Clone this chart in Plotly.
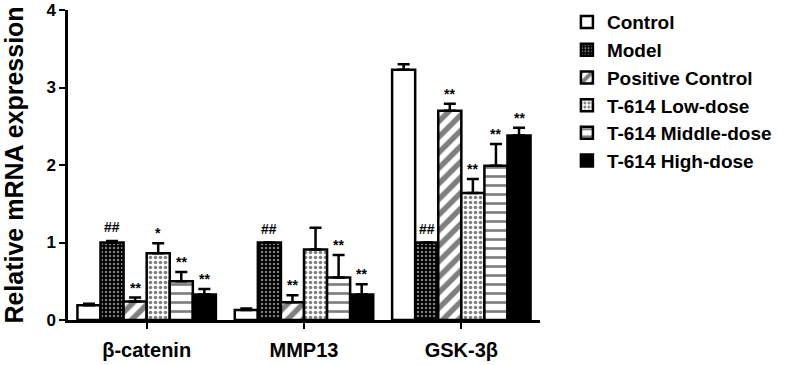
import plotly.graph_objects as go

categories = ["β-catenin", "MMP13", "GSK-3β"]
series_names = ["Control", "Model", "Positive Control", "T-614 Low-dose", "T-614 Middle-dose", "T-614 High-dose"]

control = [0.19, 0.13, 3.23]
model = [1.00, 1.00, 1.00]
positive = [0.24, 0.23, 2.70]
low_dose = [0.86, 0.91, 1.64]
middle_dose = [0.50, 0.55, 1.99]
high_dose = [0.33, 0.33, 2.38]

control_err = [0.02, 0.02, 0.07]
model_err = [0.02, 0.0, 0.0]
positive_err = [0.05, 0.09, 0.09]
low_err = [0.13, 0.28, 0.18]
middle_err = [0.12, 0.29, 0.28]
high_err = [0.07, 0.13, 0.10]

control_sig = ["", "", ""]
model_sig = ["##", "##", "##"]
positive_sig = ["**", "**", "**"]
low_sig = ["*", "", "**"]
middle_sig = ["**", "**", "**"]
high_sig = ["**", "**", "**"]

y_ticks = [0, 1, 2, 3, 4]

values = [control, model, positive, low_dose, middle_dose, high_dose]
errors = [control_err, model_err, positive_err, low_err, middle_err, high_err]
sigs = [control_sig, model_sig, positive_sig, low_sig, middle_sig, high_sig]

patterns = [
    dict(shape=""),
    dict(shape=".", fgcolor="white", bgcolor="black", size=4, solidity=0.3),
    dict(shape="/", fgcolor="black", bgcolor="white", size=11, solidity=0.5),
    dict(shape=".", fgcolor="black", bgcolor="white", size=5, solidity=0.4),
    dict(shape="-", fgcolor="black", bgcolor="white", size=9, solidity=0.3),
    dict(shape=""),
]
fills = ["white", "black", "white", "white", "white", "black"]

FONT = "Liberation Sans, Arial, sans-serif"
bargap = 0.12

fig = go.Figure()
for i, name in enumerate(series_names):
    fig.add_trace(go.Bar(
        name=name,
        x=categories,
        y=values[i],
        marker=dict(color=fills[i], line=dict(color="black", width=2.5), pattern=patterns[i]),
        error_y=dict(type="data", symmetric=False, array=errors[i], arrayminus=[0] * len(errors[i]),
                     color="black", thickness=2.5, width=6),
    ))

n = len(series_names)
w = (1 - bargap) / n
annotations = []
for i in range(n):
    for g in range(len(categories)):
        s = sigs[i][g]
        if not s:
            continue
        xc = g - (1 - bargap) / 2 + (i + 0.5) * w
        annotations.append(dict(
            x=xc, y=values[i][g] + errors[i][g], xref="x", yref="y",
            text="<b>%s</b>" % s, showarrow=False, yanchor="bottom",
            yshift=4 if "#" in s else 0,
            font=dict(family=FONT, size=14, color="black"),
        ))

fig.update_layout(
    width=787, height=365,
    margin=dict(l=68, r=247, t=10, b=45, autoexpand=False),
    paper_bgcolor="white", plot_bgcolor="white",
    barmode="group", bargap=bargap, bargroupgap=0,
    font=dict(family=FONT, color="black"),
    annotations=annotations,
    legend=dict(
        x=1.057, y=1.022, xanchor="left", yanchor="top",
        font=dict(family=FONT, size=19, color="black", weight="bold"),
        itemwidth=30, tracegroupgap=0, bgcolor="rgba(0,0,0,0)",
    ),
    showlegend=True,
)
fig.update_xaxes(
    type="category", range=[-0.5, 2.5], automargin=False,
    showline=True, linecolor="black", linewidth=2.5,
    ticks="outside", ticklen=6, tickwidth=2, tickcolor="black",
    tickfont=dict(family=FONT, size=20, color="black", weight="bold"),
    ticklabelstandoff=4, showgrid=False, zeroline=False,
)
fig.update_yaxes(
    range=[0, 4], tickvals=y_ticks, ticktext=["<b>%d</b>" % t for t in y_ticks],
    automargin=False, ticklabeloverflow="allow",
    showline=True, linecolor="black", linewidth=2.5,
    ticks="outside", ticklen=6, tickwidth=2, tickcolor="black",
    tickfont=dict(family=FONT, size=17, color="black"),
    showgrid=False, zeroline=False,
    title=dict(text="<b>Relative mRNA expression</b>", font=dict(family=FONT, size=25, color="black"), standoff=33),
)

fig.write_html("out.html", config={"displayModeBar": False},
               post_script="document.body.style.margin='0px';")
